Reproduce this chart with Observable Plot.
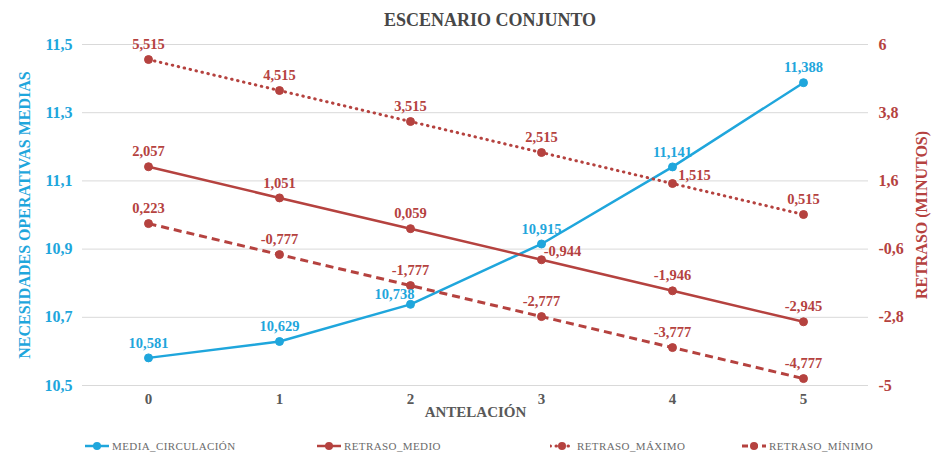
<!DOCTYPE html>
<html>
<head>
<meta charset="utf-8">
<script src="https://cdn.jsdelivr.net/npm/d3@7"></script>
<script src="https://cdn.jsdelivr.net/npm/@observablehq/plot@0.6"></script>
<style>
  html, body { margin: 0; padding: 0; background: #fff; }
  #wrap { position: relative; width: 939px; height: 457px; overflow: hidden; font-family: "Liberation Serif", Tinos, "Times New Roman", Times, "DejaVu Serif", serif; }
  #title { position: absolute; left: 0; top: 0; width: 980px; height: 32px; line-height: 40px; text-align: center; font-weight: bold; font-size: 18px; color: #474747; }
  #chart { position: absolute; left: 0; top: 32px; }
  #legend { position: absolute; left: 0; top: 432px; width: 939px; height: 25px; }
  .item { position: absolute; top: 8px; display: flex; align-items: center; font-size: 11px; color: #6b6b6b; letter-spacing: 0.4px; }
  .item svg { margin-right: 3px; }
</style>
</head>
<body>
<div id="wrap">
  <div id="title">ESCENARIO CONJUNTO</div>
  <div id="chart"></div>
  <div id="legend"></div>
</div>
<script>
// ---- data ----
const antelacion = [0, 1, 2, 3, 4, 5];
const mediaCirculacion = [10.581, 10.629, 10.738, 10.915, 11.141, 11.388];
const retrasoMedio = [2.057, 1.051, 0.059, -0.944, -1.946, -2.945];
const retrasoMaximo = [5.515, 4.515, 3.515, 2.515, 1.515, 0.515];
const retrasoMinimo = [0.223, -0.777, -1.777, -2.777, -3.777, -4.777];
const leftTicks = [10.5, 10.7, 10.9, 11.1, 11.3, 11.5];
const rightTicks = [-5, -2.8, -0.6, 1.6, 3.8, 6];
const leftDomain = [10.5, 11.5];
const rightDomain = [-5, 6];
const seriesNames = ["MEDIA_CIRCULACIÓN", "RETRASO_MEDIO", "RETRASO_MÁXIMO", "RETRASO_MÍNIMO"];

// ---- styling ----
const BLUE = "#1fa6dc";
const RED = "#b5423f";
const FONT = '"Liberation Serif", Tinos, "Times New Roman", Times, "DejaVu Serif", serif';

const toLeft = v => leftDomain[0] + (v - rightDomain[0]) / (rightDomain[1] - rightDomain[0]) * (leftDomain[1] - leftDomain[0]);
const fromLeft = y => rightDomain[0] + (y - leftDomain[0]) / (leftDomain[1] - leftDomain[0]) * (rightDomain[1] - rightDomain[0]);
const comma1 = v => String(Math.round(v * 10) / 10).replace(".", ",");
const comma3 = v => v.toFixed(3).replace(".", ",");

const series = [
  {name: seriesNames[0], values: mediaCirculacion, right: false, color: BLUE, dash: null},
  {name: seriesNames[1], values: retrasoMedio, right: true, color: RED, dash: null},
  {name: seriesNames[2], values: retrasoMaximo, right: true, color: RED, dash: "0.5,5.6"},
  {name: seriesNames[3], values: retrasoMinimo, right: true, color: RED, dash: "8,5"}
];

const rows = series.map(s => antelacion.map((a, i) => ({
  name: s.name, x: a, v: s.values[i], y: s.right ? toLeft(s.values[i]) : s.values[i], i
})));

// label placement (offset from its point)
function offsetOf(name, i) {
  if (name === seriesNames[0] && i === 2) return [-16, -10];
  if (name === seriesNames[1] && i === 3) return [21, -8];
  if (name === seriesNames[2] && i === 4) return [22, -8];
  return [0, -15];
}

const marks = [
  Plot.gridY(leftTicks, {stroke: "#d9d9d9", strokeOpacity: 1, strokeWidth: 1}),
  Plot.axisY({anchor: "left", ticks: leftTicks, tickSize: 0, tickPadding: 10, tickFormat: comma1,
    color: BLUE, fontSize: 16, fontWeight: "bold",
    label: "NECESIDADES OPERATIVAS MEDIAS", labelAnchor: "center", labelOffset: 64, labelArrow: "none"}),
  Plot.axisY({anchor: "right", ticks: rightTicks.map(toLeft), tickSize: 0, tickPadding: 10,
    tickFormat: d => comma1(fromLeft(d)),
    color: RED, fontSize: 16, fontWeight: "bold",
    label: "RETRASO (MINUTOS)", labelAnchor: "center", labelOffset: 58, labelArrow: "none"}),
  Plot.axisX({anchor: "bottom", tickSize: 0, tickPadding: 8, color: "#595959", fontSize: 15, fontWeight: "bold",
    label: "ANTELACIÓN", labelAnchor: "center", labelOffset: 31, labelArrow: "none"})
];

series.forEach((s, k) => {
  marks.push(Plot.line(rows[k], {x: "x", y: "y", stroke: s.color, strokeWidth: s.dash ? 3 : 2.5,
    strokeDasharray: s.dash || undefined, strokeLinecap: s.dash && s.dash.startsWith("0.5") ? "round" : "butt"}));
});
series.forEach((s, k) => {
  marks.push(Plot.dot(rows[k], {x: "x", y: "y", r: 4, fill: s.color, stroke: s.color, strokeWidth: 1}));
});
series.forEach((s, k) => {
  const groups = d3.group(rows[k], d => offsetOf(d.name, d.i).join(","));
  for (const [key, data] of groups) {
    const [dx, dy] = key.split(",").map(Number);
    marks.push(Plot.text(data, {x: "x", y: "y", text: d => comma3(d.v), dx, dy,
      fill: s.color, fontSize: 14.5, fontWeight: "bold"}));
  }
});

const chart = Plot.plot({
  width: 939, height: 400,
  marginTop: 12, marginBottom: 47, marginLeft: 82, marginRight: 71,
  x: {type: "point", domain: antelacion, padding: 0.5, axis: null},
  y: {domain: leftDomain, axis: null},
  style: {fontFamily: FONT, background: "#fff", overflow: "visible"},
  marks
});
document.getElementById("chart").appendChild(chart);

// legend
const legendLeft = [85, 317, 550, 742];
const legend = document.getElementById("legend");
series.forEach((s, k) => {
  const div = document.createElement("div");
  div.className = "item";
  div.style.left = legendLeft[k] + "px";
  const dash = s.dash ? `stroke-dasharray="${s.dash === "8,5" ? "6,4" : "0.5,5.5"}" stroke-linecap="${s.dash === "8,5" ? "butt" : "round"}"` : "";
  div.innerHTML = `<svg width="24" height="10"><line x1="0" y1="5" x2="24" y2="5" stroke="${s.color}" stroke-width="${s.dash ? 3 : 2.5}" ${dash}/><circle cx="12" cy="5" r="4" fill="${s.color}"/></svg><span>${s.name}</span>`;
  legend.appendChild(div);
});
</script>
</body>
</html>
